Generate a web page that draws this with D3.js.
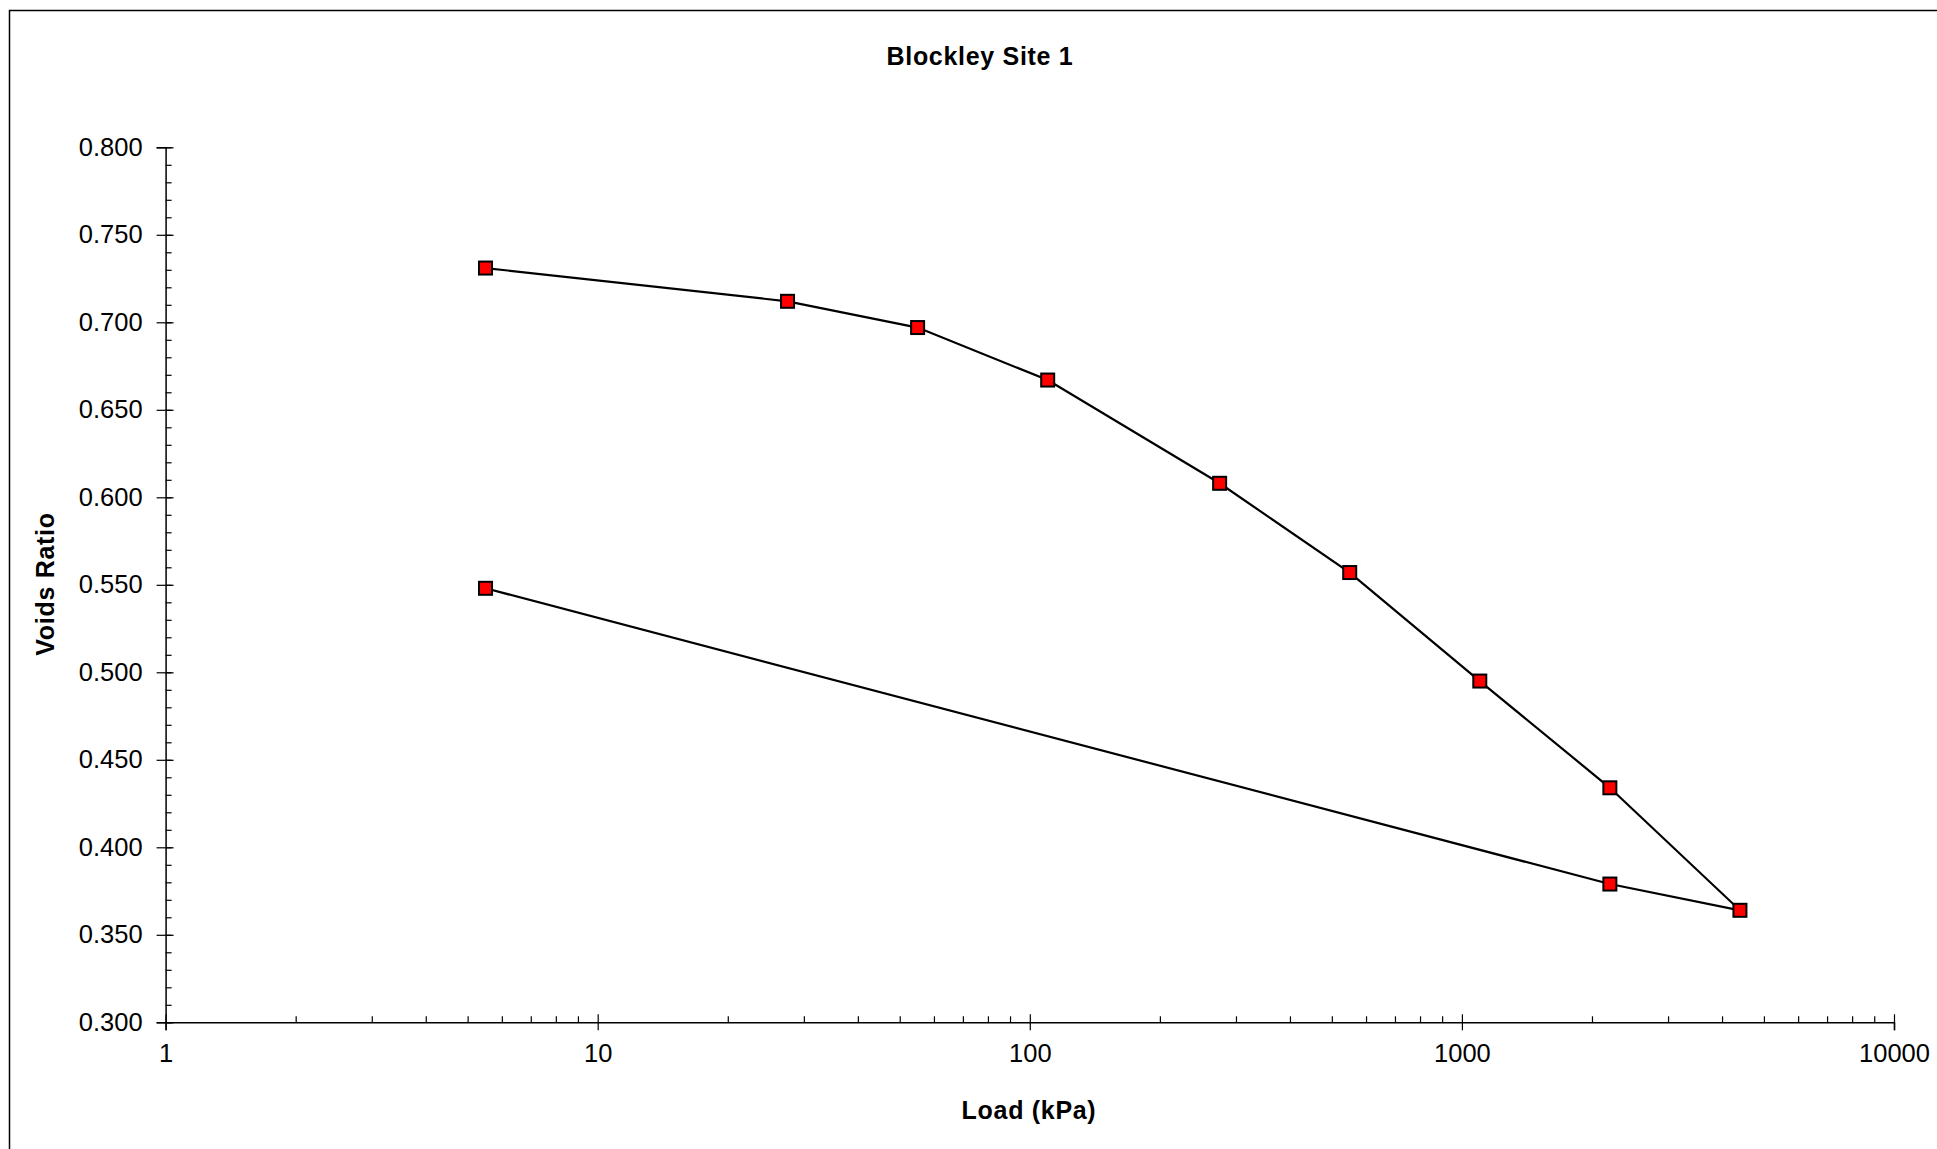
<!DOCTYPE html>
<html>
<head>
<meta charset="utf-8">
<script src="https://cdn.jsdelivr.net/npm/d3@7"></script>
<style>
  html, body { margin: 0; padding: 0; background: #fff; }
  svg { display: block; font-family: "Liberation Sans", Arial, sans-serif; }
</style>
</head>
<body>
<svg id="chart" width="1937" height="1149"></svg>
<script>
// ---- data ----
const title = "Blockley Site 1";
const xTitle = "Load (kPa)";
const yTitle = "Voids Ratio";
const loads = [5.5, 27.5, 55, 110, 275, 550, 1100, 2200, 4400, 2200, 5.5];
const voids = [0.731, 0.712, 0.697, 0.667, 0.608, 0.557, 0.495, 0.434, 0.364, 0.379, 0.548];
const xTickValues = [1, 10, 100, 1000, 10000];
const yTickValues = [0.3, 0.35, 0.4, 0.45, 0.5, 0.55, 0.6, 0.65, 0.7, 0.75, 0.8];

(function () {
// ---- layout ----
const svg = d3.select("#chart");
const pLeft = 165.6, pRight = 1894, pTop = 147.3, pBottom = 1022.3;

const x = d3.scaleLog().domain([1, 10000]).range([pLeft, pRight]);
const y = d3.scaleLinear().domain([0.3, 0.8]).range([pBottom, pTop]);

// outer border
svg.append("rect")
  .attr("x", 9.5).attr("y", 10.5)
  .attr("width", 1940).attr("height", 1150)
  .attr("fill", "none").attr("stroke", "#000").attr("stroke-width", 1.5);

// title
svg.append("text")
  .attr("x", 980).attr("y", 65)
  .attr("text-anchor", "middle")
  .attr("font-size", 25).attr("font-weight", "bold")
  .attr("letter-spacing", 0.7)
  .text(title);

// ---- y axis ----
const yMinor = d3.range(30, 81).map(d => d / 100);
const gyMinor = svg.append("g").attr("transform", `translate(${pLeft},0)`)
  .call(d3.axisRight(y).tickValues(yMinor).tickSize(6).tickFormat(""));
const gyMajIn = svg.append("g").attr("transform", `translate(${pLeft},0)`)
  .call(d3.axisRight(y).tickValues(yTickValues).tickSize(8).tickFormat(""));
const gy = svg.append("g").attr("transform", `translate(${pLeft},0)`)
  .call(d3.axisLeft(y).tickValues(yTickValues).tickSize(9).tickPadding(14)
    .tickFormat(d3.format(".3f")));
[gyMinor, gyMajIn].forEach(g => g.select(".domain").remove());
gy.select(".domain").attr("stroke-width", 1.5);
gy.selectAll("text").attr("font-size", 25.5).attr("fill", "#000")
  .attr("font-family", "Liberation Sans, Arial, sans-serif");

// ---- x axis ----
const xMinor = [];
for (let e = 0; e < 4; e++) for (let m = 2; m <= 9; m++) xMinor.push(m * Math.pow(10, e));
const gxMinor = svg.append("g").attr("transform", `translate(0,${pBottom})`)
  .call(d3.axisTop(x).tickValues(xMinor).tickSize(6).tickFormat(""));
const gxMajIn = svg.append("g").attr("transform", `translate(0,${pBottom})`)
  .call(d3.axisTop(x).tickValues(xTickValues).tickSize(8).tickFormat(""));
const gx = svg.append("g").attr("transform", `translate(0,${pBottom})`)
  .call(d3.axisBottom(x).tickValues(xTickValues).tickSize(8).tickPadding(14)
    .tickFormat(d3.format("d")));
[gxMinor, gxMajIn].forEach(g => g.select(".domain").remove());
gx.select(".domain").attr("stroke-width", 1.5);
gx.selectAll("text").attr("font-size", 25.5).attr("fill", "#000")
  .attr("font-family", "Liberation Sans, Arial, sans-serif");
svg.selectAll("g.tick line").attr("stroke", "#000").attr("stroke-width", 1.2);

// axis titles
svg.append("text")
  .attr("x", 1029).attr("y", 1119)
  .attr("text-anchor", "middle")
  .attr("font-size", 25).attr("font-weight", "bold")
  .attr("letter-spacing", 0.7)
  .text(xTitle);
svg.append("text")
  .attr("transform", `translate(54,584) rotate(-90)`)
  .attr("text-anchor", "middle")
  .attr("font-size", 25).attr("font-weight", "bold")
  .attr("letter-spacing", 0.7)
  .text(yTitle);

// ---- series ----
const pts = loads.map((l, i) => ({ l, v: voids[i] }));
svg.append("path")
  .datum(pts)
  .attr("fill", "none").attr("stroke", "#000").attr("stroke-width", 2.2)
  .attr("d", d3.line().x(d => x(d.l)).y(d => y(d.v)));

const ms = 13;
svg.append("g").selectAll("rect").data(pts).join("rect")
  .attr("x", d => x(d.l) - ms / 2).attr("y", d => y(d.v) - ms / 2)
  .attr("width", ms).attr("height", ms)
  .attr("fill", "#ff0000").attr("stroke", "#000").attr("stroke-width", 2);
})();
</script>
</body>
</html>
